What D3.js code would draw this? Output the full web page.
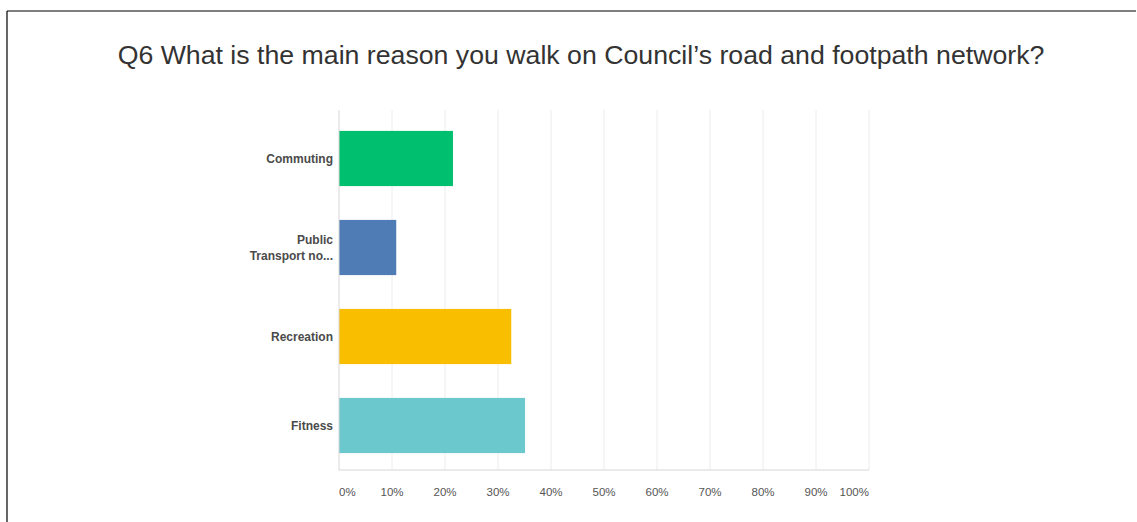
<!DOCTYPE html>
<html>
<head>
<meta charset="utf-8">
<script src="https://cdn.jsdelivr.net/npm/d3@7"></script>
<style>
  body { margin: 0; background: #fff; }
</style>
</head>
<body>
<script>
// chart data
var categories = ["Commuting", "Public Transport no...", "Recreation", "Fitness"];
var categoryLines = [["Commuting"], ["Public", "Transport no..."], ["Recreation"], ["Fitness"]];
var values = [21.5, 10.8, 32.5, 35.1];
var colors = ["#00bf6f", "#507cb6", "#f9be00", "#6bc8cd"];
var ticks = [0, 10, 20, 30, 40, 50, 60, 70, 80, 90, 100];
var title = "Q6 What is the main reason you walk on Council\u2019s road and footpath network?";

var width = 1137, height = 522;

var svg = d3.select("body")
    .append("svg")
    .attr("width", width)
    .attr("height", height);

// frame lines (top and left)
svg.append("line")
    .attr("x1", 7).attr("x2", 1136).attr("y1", 11).attr("y2", 11)
    .attr("stroke", "#000").attr("stroke-width", 1.2);
svg.append("line")
    .attr("x1", 7).attr("x2", 7).attr("y1", 11).attr("y2", height)
    .attr("stroke", "#000").attr("stroke-width", 1.2);

// title
svg.append("text")
    .attr("x", 581)
    .attr("y", 64)
    .attr("text-anchor", "middle")
    .style("font-family", "'Liberation Sans', Arial, sans-serif")
    .style("font-size", "26.7px")
    .style("fill", "#333")
    .text(title);

var x = d3.scaleLinear().domain([0, 100]).range([339, 869]);
var y = d3.scaleBand()
    .domain(categories)
    .range([114, 470])
    .paddingInner(0.38)
    .paddingOuter(0.19);

// gridlines
svg.append("g")
    .selectAll("line")
    .data(ticks.slice(1))
    .enter()
    .append("line")
    .attr("x1", d => x(d)).attr("x2", d => x(d))
    .attr("y1", 110).attr("y2", 470)
    .attr("stroke", "#ececec")
    .attr("stroke-width", 1);

// bars
svg.append("g")
    .selectAll("rect")
    .data(values)
    .enter()
    .append("rect")
    .attr("x", x(0))
    .attr("y", (d, i) => y(categories[i]))
    .attr("width", d => x(d) - x(0))
    .attr("height", y.bandwidth())
    .attr("fill", (d, i) => colors[i]);

// axis lines
svg.append("line")
    .attr("x1", x(0)).attr("x2", x(0)).attr("y1", 110).attr("y2", 470)
    .attr("stroke", "#d6d6d6");
svg.append("line")
    .attr("x1", x(0)).attr("x2", x(100)).attr("y1", 470).attr("y2", 470)
    .attr("stroke", "#d6d6d6");

// category labels
var labels = svg.append("g")
    .selectAll("text")
    .data(categories)
    .enter()
    .append("text")
    .attr("x", 333)
    .attr("text-anchor", "end")
    .style("font-family", "'Liberation Sans', Arial, sans-serif")
    .style("font-size", "12px")
    .style("font-weight", "bold")
    .style("fill", "#4a4a4a");

labels.each(function (d, i) {
    var lines = categoryLines[i];
    var cy = y(d) + y.bandwidth() / 2;
    var lh = 16;
    var start = cy - (lines.length - 1) * lh / 2 + 4;
    d3.select(this).selectAll("tspan")
        .data(lines)
        .enter()
        .append("tspan")
        .attr("x", 333)
        .attr("y", (l, j) => start + j * lh)
        .text(l => l);
});

// x tick labels
svg.append("g")
    .selectAll("text")
    .data(ticks)
    .enter()
    .append("text")
    .attr("x", d => x(d))
    .attr("y", 496)
    .attr("text-anchor", d => d === 0 ? "start" : (d === 100 ? "end" : "middle"))
    .style("font-family", "'Liberation Sans', Arial, sans-serif")
    .style("font-size", "11.5px")
    .style("fill", "#555")
    .text(d => d + "%");
</script>
</body>
</html>
